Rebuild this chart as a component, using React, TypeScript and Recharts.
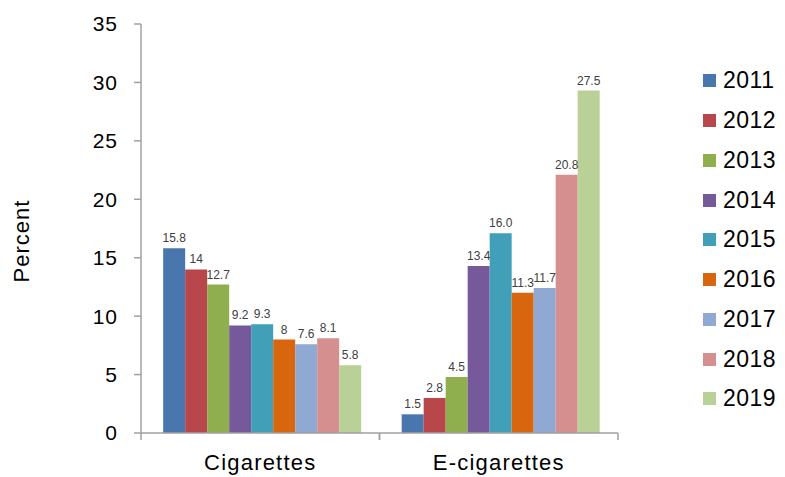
import React from 'react';
import { BarChart, Bar, XAxis, YAxis, LabelList, Label } from 'recharts';

const categories = ['Cigarettes', 'E-cigarettes'];
const years = ['2011', '2012', '2013', '2014', '2015', '2016', '2017', '2018', '2019'];
const colors = ['#4A76AE', '#B7474A', '#8FAF4F', '#76599A', '#419FB8', '#D8660E', '#8FA9D3', '#D58F8F', '#B9D196'];

// bar heights as drawn in the picture
const cigaretteValues = [15.8, 14, 12.7, 9.2, 9.3, 8, 7.6, 8.1, 5.8];
const eCigaretteValues = [1.6, 3.0, 4.8, 14.3, 17.1, 12.0, 12.4, 22.1, 29.3];
// data labels printed above the bars
const cigaretteLabels = ['15.8', '14', '12.7', '9.2', '9.3', '8', '7.6', '8.1', '5.8'];
const eCigaretteLabels = ['1.5', '2.8', '4.5', '13.4', '16.0', '11.3', '11.7', '20.8', '27.5'];

const yTicks = [0, 5, 10, 15, 20, 25, 30, 35];

const W = 785;
const H = 477;
const MARGIN = { top: 24, right: 167, left: 81, bottom: 14 };
const Y_AXIS_W = 60;
const PLOT_W = W - MARGIN.left - MARGIN.right - Y_AXIS_W;

const data = categories.map((name, ci) => {
  const row: any = { name };
  years.forEach((y, i) => {
    row['v' + y] = ci === 0 ? cigaretteValues[i] : eCigaretteValues[i];
    row['l' + y] = ci === 0 ? cigaretteLabels[i] : eCigaretteLabels[i];
  });
  return row;
});

const FONT = '"Liberation Sans", Arial, sans-serif';
const AXIS_COLOR = '#A0A0A0';

const XTick = (props: any) => {
  const { x, y, payload } = props;
  const half = PLOT_W / categories.length / 2;
  return (
    <g>
      <line x1={x - half} x2={x - half} y1={y} y2={y + 7} stroke={AXIS_COLOR} strokeWidth={1.5} />
      <line x1={x + half} x2={x + half} y1={y} y2={y + 7} stroke={AXIS_COLOR} strokeWidth={1.5} />
      <text x={x} y={y + 37} textAnchor="middle" fontSize={22} letterSpacing={1.2} fill="#000" fontFamily={FONT}>
        {payload.value}
      </text>
    </g>
  );
};

export default function App() {
  return (
    <div style={{ position: 'absolute', left: 0, top: 0, width: W, height: H, background: '#fff', fontFamily: FONT }}>
      <BarChart width={W} height={H} data={data} margin={MARGIN} barCategoryGap="9.3%" barGap={0}>
        <XAxis
          dataKey="name"
          tickLine={false}
          tickSize={0}
          tickMargin={0}
          axisLine={{ stroke: AXIS_COLOR, strokeWidth: 1.5 }}
          tick={<XTick />}
          height={30}
          interval={0}
        />
        <YAxis
          domain={[0, 35]}
          ticks={yTicks}
          width={Y_AXIS_W}
          tickSize={7}
          tickMargin={16}
          axisLine={{ stroke: AXIS_COLOR, strokeWidth: 1.5 }}
          tickLine={{ stroke: AXIS_COLOR, strokeWidth: 1.5 }}
          tick={{ fill: '#000', fontSize: 21, letterSpacing: 1, fontFamily: FONT }}
          interval={0}
        >
          <Label
            content={() => (
              <text
                x={21}
                y={241}
                transform="rotate(-90, 21, 241)"
                textAnchor="middle"
                dominantBaseline="central"
                fontSize={22}
                letterSpacing={1}
                fill="#000"
                fontFamily={FONT}
              >
                Percent
              </text>
            )}
          />
        </YAxis>
        {years.map((y, i) => (
          <Bar key={y} dataKey={'v' + y} name={y} fill={colors[i]} isAnimationActive={false}>
            <LabelList dataKey={'l' + y} position="top" offset={6} fontSize={12} fill="#404040" fontFamily={FONT} />
          </Bar>
        ))}
      </BarChart>
      <div style={{ position: 'absolute', left: 703, top: 61 }}>
        {years.map((y, i) => (
          <div key={y} style={{ display: 'flex', alignItems: 'center', height: 39.75 }}>
            <div style={{ width: 13, height: 13, background: colors[i], marginRight: 7 }} />
            <span style={{ fontSize: 23, letterSpacing: 0.5, color: '#000', fontFamily: FONT, lineHeight: '23px' }}>{y}</span>
          </div>
        ))}
      </div>
    </div>
  );
}
